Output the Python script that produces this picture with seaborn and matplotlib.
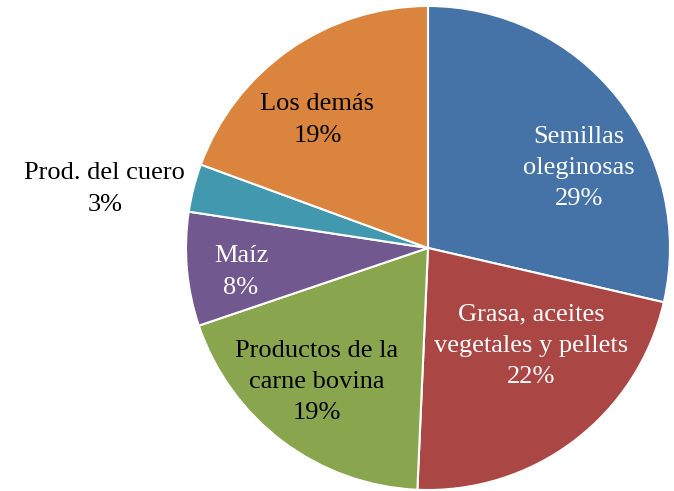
import matplotlib
matplotlib.use("Agg")
import matplotlib.pyplot as plt
import seaborn as sns

sns.set_theme(style="white")
plt.rcParams['font.family'] = ['Liberation Serif', 'DejaVu Serif']

categories = ["Semillas\noleginosas", "Grasa, aceites\nvegetales y pellets",
              "Productos de la\ncarne bovina", "Maíz", "Prod. del cuero", "Los demás"]
values = [28.6, 22.1, 19.1, 7.6, 3.2, 19.4]
colors = ["#4572A7", "#AA4643", "#89A54E", "#71588F", "#4198AF", "#DB843D"]
text_colors = ["white", "white", "black", "white", "black", "black"]
# label centres (pie radius = 1, centre at origin)
label_pos = [(0.624, 0.33), (0.425, -0.405), (-0.459, -0.554),
             (-0.773, -0.099), (-1.335, 0.244), (-0.457, 0.529)]

fig = plt.figure(figsize=(6.74, 4.91), dpi=100)
ax = fig.add_axes([0, 0, 1, 1])
R = 242.0
cx, cy = 428.0, 248.0
ax.pie(values, colors=colors, startangle=90, counterclock=False, radius=1,
       wedgeprops=dict(edgecolor="white", linewidth=1.5))
ax.set_xlim(-cx / R, (674 - cx) / R)
ax.set_ylim((cy - 491) / R, cy / R)
ax.set_aspect("equal")
ax.axis("off")

for cat, v, (x, y), tc in zip(categories, values, label_pos, text_colors):
    ax.text(x, y, f"{cat}\n{v:.0f}%", ha="center", va="center", color=tc,
            fontsize=19, linespacing=1.55)

fig.savefig("out.png", dpi=100, facecolor="white")
